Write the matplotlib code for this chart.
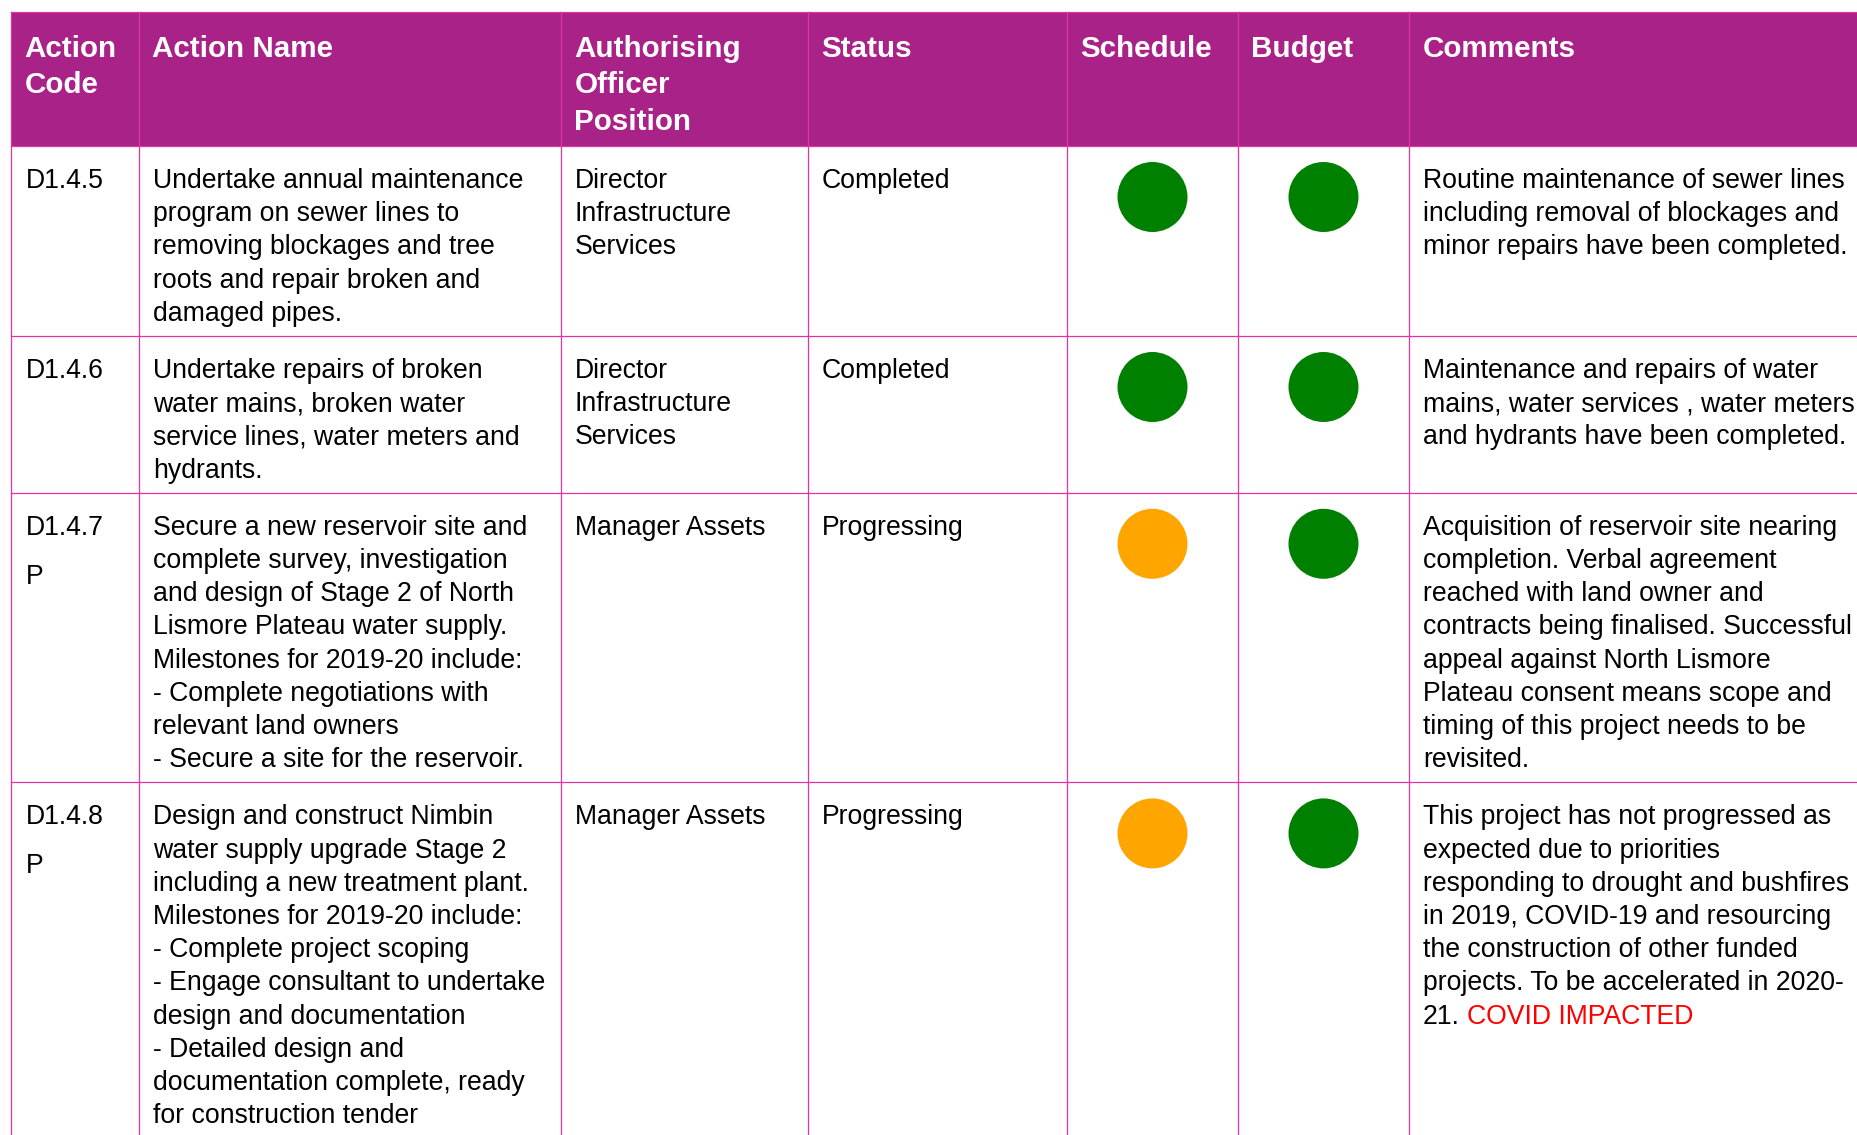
import matplotlib
matplotlib.use('Agg')
import matplotlib.pyplot as plt
from matplotlib.patches import Rectangle, Circle

plt.rcParams['font.family'] = ['Liberation Sans', 'DejaVu Sans']

# table content
headers = ['Action\nCode', 'Action Name', 'Authorising\nOfficer\nPosition',
           'Status', 'Schedule', 'Budget', 'Comments']

codes = ['D1.4.5', 'D1.4.6', 'D1.4.7\nP', 'D1.4.8\nP']

names = [
    'Undertake annual maintenance\nprogram on sewer lines to\nremoving blockages and tree\n'
    'roots and repair broken and\ndamaged pipes.',
    'Undertake repairs of broken\nwater mains, broken water\nservice lines, water meters and\n'
    'hydrants.',
    'Secure a new reservoir site and\ncomplete survey, investigation\nand design of Stage 2 of North\n'
    'Lismore Plateau water supply.\nMilestones for 2019-20 include:\n- Complete negotiations with\n'
    'relevant land owners\n- Secure a site for the reservoir.',
    'Design and construct Nimbin\nwater supply upgrade Stage 2\nincluding a new treatment plant.\n'
    'Milestones for 2019-20 include:\n- Complete project scoping\n- Engage consultant to undertake\n'
    'design and documentation\n- Detailed design and\ndocumentation complete, ready\n'
    'for construction tender',
]

officers = ['Director\nInfrastructure\nServices', 'Director\nInfrastructure\nServices',
            'Manager Assets', 'Manager Assets']

statuses = ['Completed', 'Completed', 'Progressing', 'Progressing']

schedule = ['green', 'green', 'amber', 'amber']
budget = ['green', 'green', 'green', 'green']

comments = [
    'Routine maintenance of sewer lines\nincluding removal of blockages and\n'
    'minor repairs have been completed.',
    'Maintenance and repairs of water\nmains, water services , water meters\n'
    'and hydrants have been completed.',
    'Acquisition of reservoir site nearing\ncompletion. Verbal agreement\nreached with land owner and\n'
    'contracts being finalised. Successful\nappeal against North Lismore\n'
    'Plateau consent means scope and\ntiming of this project needs to be\nrevisited.',
    'This project has not progressed as\nexpected due to priorities\nresponding to drought and bushfires\n'
    'in 2019, COVID-19 and resourcing\nthe construction of other funded\n'
    'projects. To be accelerated in 2020-\n21.',
]
comment_flags = ['', '', '', 'COVID IMPACTED']

# style / layout
W, H = 1858, 1135
purple = '#A92288'
grid = '#E0349E'
rag = {'green': '#008000', 'amber': '#FFA500'}
col_x = [11, 139, 561, 808, 1067, 1238, 1409, W + 5]
head_top, head_bot = 12, 146
pad = 15
line = 33.2
body_fs = 19.2
head_fs = 21.3

fig = plt.figure(figsize=(W / 100, H / 100), dpi=100)
ax = fig.add_axes([0, 0, 1, 1])
ax.set_xlim(0, W)
ax.set_ylim(H, 0)
ax.axis('off')

# header
ax.add_patch(Rectangle((col_x[0], head_top), W - col_x[0] + 5, head_bot - head_top,
                       facecolor=purple, edgecolor='none', zorder=1))
for i, h in enumerate(headers):
    for j, s in enumerate(h.split('\n')):
        ax.text(col_x[i] + pad - 1.5, head_top + 45 + j * 36.3, s, color='white',
                fontsize=head_fs, fontweight='bold', va='baseline', ha='left')

# rows
tops = [head_bot]
for k in range(len(codes)):
    n = max(len(names[k].split('\n')), len(comments[k].split('\n')),
            len(officers[k].split('\n')))
    tops.append(tops[-1] + 24 + line * n)

for k in range(len(codes)):
    top = tops[k]
    base = top + 42
    for j, s in enumerate(codes[k].split('\n')):
        ax.text(col_x[0] + pad, base + j * 49, s, fontsize=body_fs, va='baseline')
    for col, txt in [(1, names[k]), (2, officers[k]), (3, statuses[k]), (6, comments[k])]:
        for j, s in enumerate(txt.split('\n')):
            t = ax.text(col_x[col] + pad - 1, base + j * line, s, fontsize=body_fs,
                        va='baseline', color='black')
    if comment_flags[k]:
        ax.annotate(comment_flags[k], xy=(1, 0), xycoords=t, xytext=(5, 0),
                    textcoords='offset points', fontsize=body_fs, color='#FF0000',
                    va='bottom', ha='left')
    for col, st in [(4, schedule[k]), (5, budget[k])]:
        cx = (col_x[col] + col_x[col + 1]) / 2
        ax.add_patch(Circle((cx, top + 51), 35, facecolor=rag[st], edgecolor='none', zorder=2))

# grid lines
lw = 0.9
ax.plot([col_x[0], W], [head_top, head_top], color=grid, lw=lw, zorder=3)
for y in tops:
    ax.plot([col_x[0], W], [y, y], color=grid, lw=lw, zorder=3)
for x in col_x[:-1]:
    ax.plot([x, x], [head_top, H], color=grid, lw=lw, zorder=3)

fig.savefig('out.png', dpi=100, facecolor='white')
